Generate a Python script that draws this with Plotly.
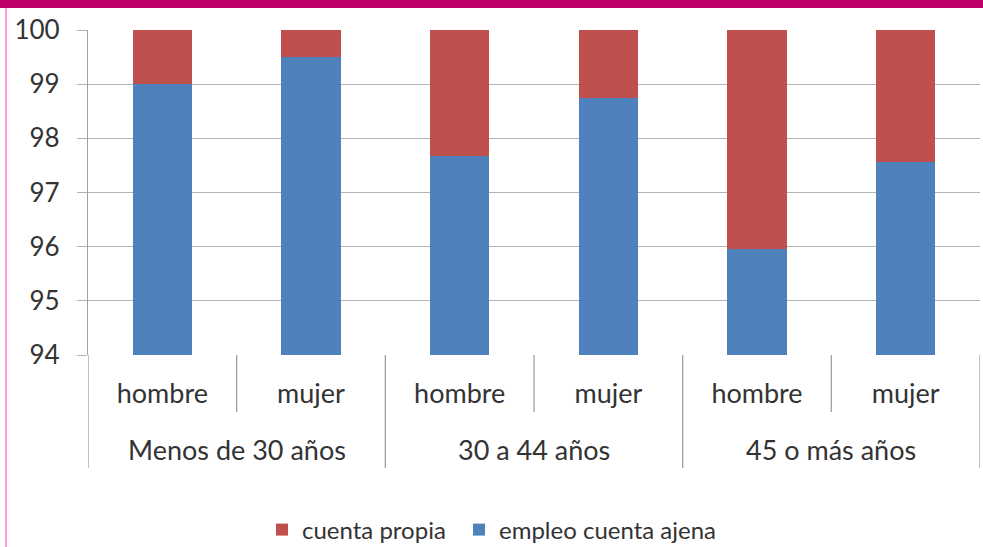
import plotly.graph_objects as go

groups = ["Menos de 30 años", "30 a 44 años", "45 o más años"]
sexes = ["hombre", "mujer", "hombre", "mujer", "hombre", "mujer"]
ajena = [99.0, 99.5, 97.68, 98.74, 95.96, 97.56]
propia = [round(100 - v, 2) for v in ajena]
y_ticks = [94, 95, 96, 97, 98, 99, 100]

BLUE = "#4F81BD"
RED = "#C0504D"
GRID = "#B4B4B4"
FONT = "Lato"
TXT = "#333333"

W, H = 983, 547
ML, MR, MT, MB = 88, 3, 30, 192
PW, PH = W - ML - MR, H - MT - MB

xs = list(range(len(sexes)))

fig = go.Figure()
fig.add_trace(go.Bar(x=xs, y=ajena, name="empleo cuenta ajena", marker_color=BLUE,
                     marker_line_width=0, width=0.4, legend="legend2"))
fig.add_trace(go.Bar(x=xs, y=propia, name="cuenta propia", marker_color=RED,
                     marker_line_width=0, width=0.4, legend="legend"))

def py(pix):
    return (MT + PH - pix) / PH

def px(pix):
    return (pix - ML) / PW

shapes = []
for i in range(len(sexes) + 1):
    xb = i - 0.5
    long = (i % 2 == 0)
    shapes.append(dict(type="line", xref="x", yref="paper", x0=xb, x1=xb,
                       y0=0, y1=py(468) if long else py(412),
                       line=dict(color="#A0A0A0", width=1.3)))
shapes.append(dict(type="rect", xref="paper", yref="paper", x0=px(0), x1=px(W),
                   y0=py(8), y1=py(0), fillcolor="#C0006A", line_width=0, layer="above"))
shapes.append(dict(type="line", xref="paper", yref="paper", x0=px(6), x1=px(6),
                   y0=py(H), y1=py(8), line=dict(color="#FF77CC", width=1.5)))

annotations = []
for g, name in enumerate(groups):
    annotations.append(dict(x=2 * g + 0.5, y=py(449), xref="x", yref="paper",
                            text=name, showarrow=False,
                            font=dict(family=FONT, size=27, color=TXT),
                            xanchor="center", yanchor="middle"))

leg_common = dict(orientation="h", xanchor="left", yanchor="middle",
                  font=dict(family=FONT, size=24, color=TXT), bgcolor="rgba(0,0,0,0)")

fig.update_layout(
    width=W, height=H,
    margin=dict(l=ML, r=MR, t=MT, b=MB, pad=0, autoexpand=False),
    barmode="stack",
    plot_bgcolor="white", paper_bgcolor="white",
    font=dict(family=FONT, size=26, color=TXT),
    shapes=shapes, annotations=annotations,
    showlegend=True,
    legend=dict(x=px(262), y=py(530), **leg_common),
    legend2=dict(x=px(459), y=py(530), **leg_common),
    xaxis=dict(tickmode="array", tickvals=xs, ticktext=sexes, range=[-0.5, 5.5],
               showgrid=False, showline=False, zeroline=False, ticks="",
               tickfont=dict(family=FONT, size=27, color=TXT),
               ticklabelstandoff=20, automargin=False),
    yaxis=dict(range=[94, 100], tickmode="array", tickvals=y_ticks,
               showgrid=True, gridcolor=GRID, gridwidth=1.3,
               showline=True, linecolor="#A0A0A0", linewidth=1.3,
               ticks="outside", ticklen=10, tickcolor=GRID, tickwidth=1.3,
               zeroline=False, ticklabelstandoff=12, automargin=False,
               tickfont=dict(family=FONT, size=26, color=TXT)),
)

fig.write_html("out.html", config={"displayModeBar": False},
               post_script="document.body.style.margin='0';document.body.style.padding='0';")
